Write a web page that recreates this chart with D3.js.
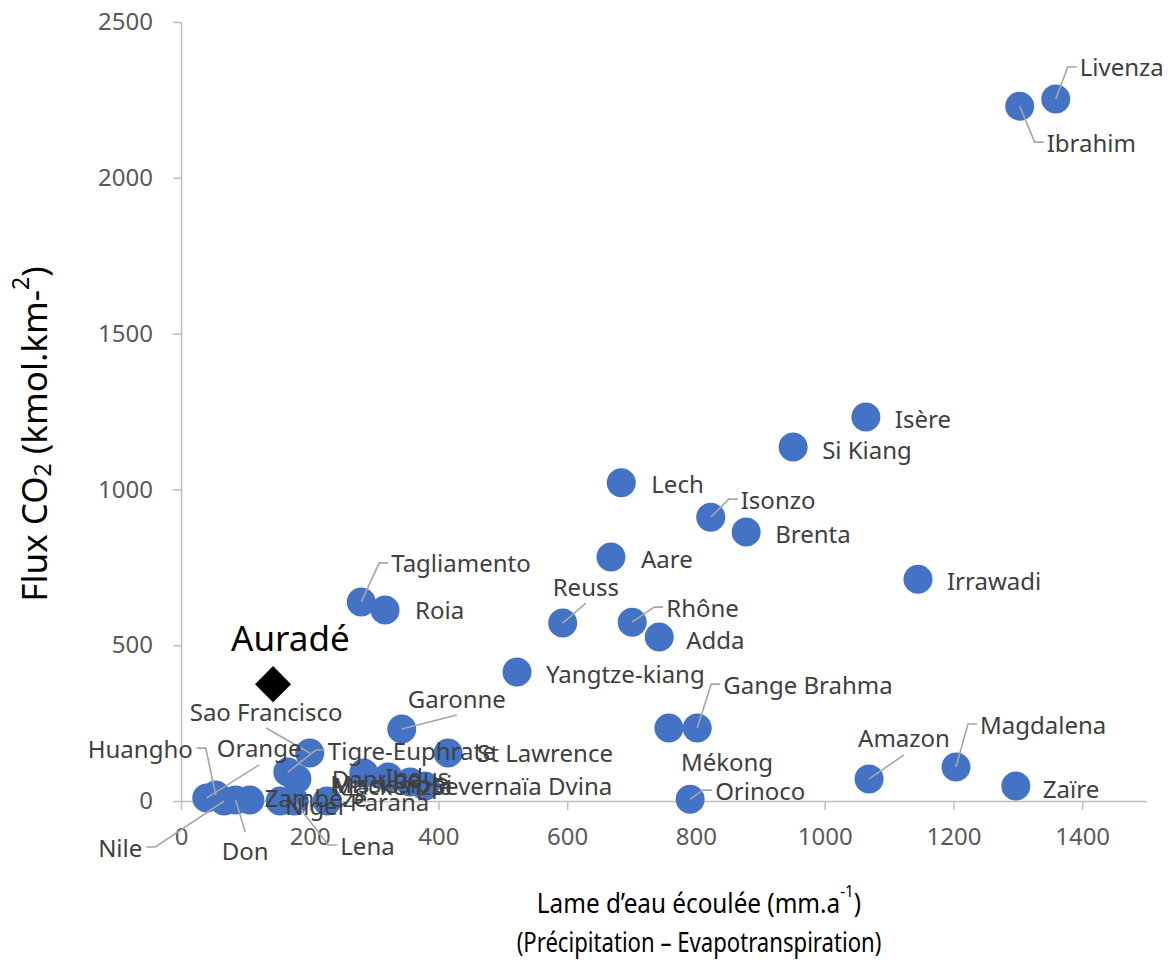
<!DOCTYPE html>
<html><head><meta charset="utf-8">
<script src="https://cdn.jsdelivr.net/npm/d3@7"></script>
<style>
body{margin:0;background:#fff}
svg{display:block}
text{font-family:"Noto Sans",sans-serif}
</style>
</head><body>
<svg id="chart" width="1173" height="965"></svg>
<script>
// ---------- data ----------
const rivers = ["Livenza","Ibrahim","Isère","Si Kiang","Lech","Isonzo","Brenta","Aare","Irrawadi",
  "Tagliamento","Roia","Reuss","Rhône","Adda","Yangtze-kiang","Gange Brahma","Mékong","Orinoco",
  "Amazon","Magdalena","Zaïre","Garonne","St Lawrence","Sao Francisco","Tigre-Euphrate",
  "Danube","Indus","Mississippi","Mackenzie","Severnaïa Dvina","Parana","Lena","Niger",
  "Zambèze","Don","Nile","Huangho","Orange"];
const runoff = [1359,1303,1064,951,684,823,878,668,1145,
  280,317,593,701,743,522,802,758,791,
  1069,1204,1297,343,415,200,166,
  284,322,356,180,379,227,176,154,
  107,85,67,54,40];
const co2Flux = [2253,2230,1232,1136,1021,911,863,783,712,
  639,613,571,574,526,414,234,234,6,
  71,109,48,231,154,154,93,
  90,77,61,71,48,0,0,0,
  3,3,0,19,10];
const auradeName = ["Auradé"];
const auradeRunoff = [143];
const auradeFlux = [375];
const xTicks = [0,200,400,600,800,1000,1200,1400];
const yTicks = [0,500,1000,1500,2000,2500];

// ---------- label layout (pixel offset of label left edge / centre line from the point, leader type) ----------
const labelLayout = {
  "Livenza":[24,-32,"L"], "Ibrahim":[27,36,"L"], "Isère":[29,1,""], "Si Kiang":[29,2,""],
  "Lech":[30,1,""], "Isonzo":[30,-18,"L"], "Brenta":[29,1,""], "Aare":[30,1,""],
  "Irrawadi":[29,1,""], "Tagliamento":[30,-39,"L"], "Roia":[30,0,""], "Reuss":[-10,-37,"B"],
  "Rhône":[34,-15,"L"], "Adda":[27,2,""], "Yangtze-kiang":[29,2,""], "Gange Brahma":[26,-44,"L"],
  "Mékong":[12,33,""], "Orinoco":[25,-9,"L"], "Amazon":[-11,-41,"B"], "Magdalena":[24,-43,"L"],
  "Zaïre":[27,2,""], "Garonne":[6,-31,"B"], "St Lawrence":[29,-1,""], "Sao Francisco":[-120,-42,"B"],
  "Tigre-Euphrate":[40,-22,"L"], "Danube":[-32,6,""], "Indus":[-3,-1,""], "Mississippi":[-80,2,""],
  "Mackenzie":[36,7,""], "Severnaïa Dvina":[7,-1,""], "Parana":[23,0,""], "Lena":[46,44,"L"],
  "Niger":[5,4,""], "Zambèze":[15,-3,""], "Don":[-14,50,"T"], "Nile":[-126,46,"R"],
  "Huangho":[-128,-47,"R"], "Orange":[10,-50,"B"]
};

// ---------- chart ----------
const svg = d3.select("#chart");
const x = d3.scaleLinear().domain([0,1500]).range([181,1146.5]);
const y = d3.scaleLinear().domain([0,2500]).range([801,22]);

const axisColor = "#bfbfbf", tickText = "#595959", labelColor = "#404040";

// y axis
const yAx = svg.append("g").attr("transform","translate(181,0)")
  .call(d3.axisLeft(y).tickValues(yTicks).tickSize(8).tickSizeOuter(0).tickPadding(20).tickFormat(d3.format("d")));
// x axis
const xAx = svg.append("g").attr("transform","translate(0,801)")
  .call(d3.axisBottom(x).tickValues(xTicks).tickSize(9).tickSizeOuter(0).tickPadding(18).tickFormat(d3.format("d")));
[yAx,xAx].forEach(a=>{
  a.select(".domain").attr("stroke",axisColor).attr("stroke-width",1.5);
  a.selectAll(".tick line").attr("stroke",axisColor).attr("stroke-width",1.5);
  a.selectAll(".tick text").attr("fill",tickText).style("font-size","24px").style("font-family","'Noto Sans',sans-serif");
});

// points
const idx = d3.range(rivers.length);
svg.append("g").selectAll("circle").data(idx).join("circle")
  .attr("cx",i=>x(runoff[i])).attr("cy",i=>y(co2Flux[i])).attr("r",14.5)
  .attr("fill","#4472c4");

const leadG = svg.append("g");
const labG = svg.append("g");
idx.forEach(i=>{
  const name = rivers[i];
  const px = x(runoff[i]), py = y(co2Flux[i]);
  const [dx,dy,lead] = labelLayout[name];
  const lx = px+dx, ly = py+dy;
  const t = labG.append("text").attr("x",lx).attr("y",ly).attr("dominant-baseline","central")
    .attr("fill",labelColor).style("font-size","24px").text(name);
  const w = t.node().getComputedTextLength();
  let pts = null;
  if(lead==="L") pts=[[lx-3,ly],[lx-12,ly],[px,py]];
  else if(lead==="R") pts=[[lx+w+4,ly],[lx+w+13,ly],[px,py]];
  else if(lead==="B") pts=[[lx+w/2,ly+17],[px,py]];
  else if(lead==="T") pts=[[lx+w/2,ly-18],[px,py]];
  if(pts) leadG.append("path").attr("d",d3.line()(pts)).attr("fill","none")
    .attr("stroke","#a6a6a6").attr("stroke-width",1.6);
});

// Auradé
svg.append("g").selectAll("path").data(auradeRunoff.map((r,i)=>i)).join("path")
  .attr("transform",i=>`translate(${x(auradeRunoff[i])},${y(auradeFlux[i])}) rotate(45)`)
  .attr("d",d3.symbol(d3.symbolSquare).size(650)).attr("fill","#000");
svg.append("g").selectAll("text").data(auradeName.map((n,i)=>i)).join("text")
  .attr("x",i=>x(auradeRunoff[i])-42).attr("y",i=>y(auradeFlux[i])-47)
  .attr("dominant-baseline","central").attr("fill","#000").style("font-size","35px")
  .text(i=>auradeName[i]);

// axis titles
const yt = svg.append("text").attr("transform","translate(33,434) rotate(-90)")
  .attr("text-anchor","middle").attr("dominant-baseline","central").attr("fill","#000")
  .style("font-size","35px");
yt.append("tspan").text("Flux CO");
yt.append("tspan").attr("dy",9).style("font-size","23px").text("2");
yt.append("tspan").attr("dy",-9).text(" (kmol.km-");
yt.append("tspan").attr("dy",-13).style("font-size","23px").text("2");
yt.append("tspan").attr("dy",13).text(")");

const xt = svg.append("text").attr("transform","translate(699,902) scale(0.9,1)")
  .attr("text-anchor","middle").attr("dominant-baseline","central").attr("fill","#000")
  .style("font-size","27px");
xt.append("tspan").text("Lame d’eau écoulée (mm.a");
xt.append("tspan").attr("dy",-11).style("font-size","17px").text("-1");
xt.append("tspan").attr("dy",11).text(")");
svg.append("text").attr("transform","translate(699,942) scale(0.82,1)")
  .attr("text-anchor","middle").attr("dominant-baseline","central").attr("fill","#000")
  .style("font-size","27px")
  .text("(Précipitation – Evapotranspiration)");
</script>
</body></html>
